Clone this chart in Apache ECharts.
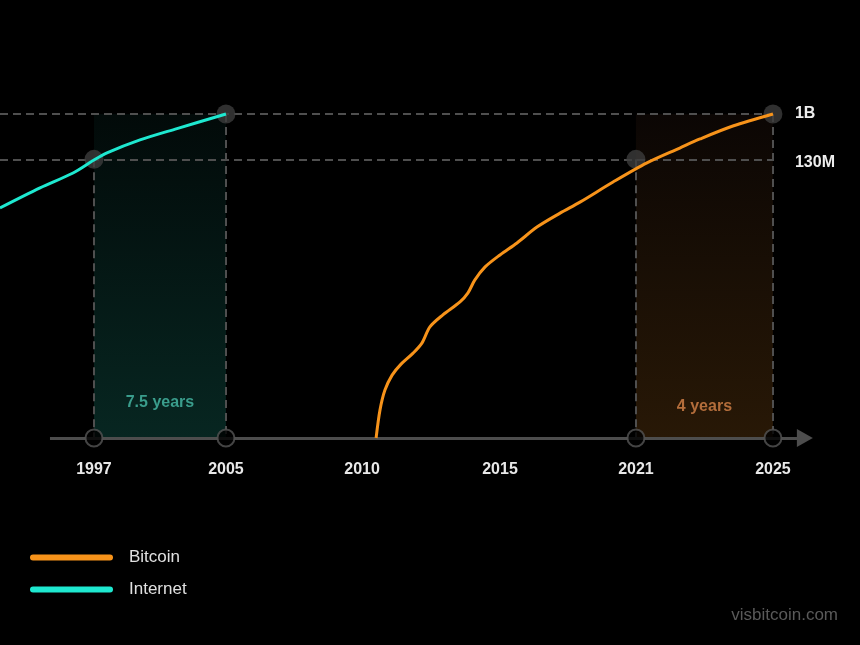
<!DOCTYPE html>
<html><head><meta charset="utf-8">
<script src="https://cdn.jsdelivr.net/npm/echarts@6/dist/echarts.min.js"></script>
<style>html,body{margin:0;padding:0;background:#000}#c{width:860px;height:645px}</style>
</head><body><div id="c"></div>
<script>
// ---- data ----
const tickYears = [1997, 2005, 2010, 2015, 2021, 2025];
const levelNames = ['130M', '1B'];
const levelValues = [0.860, 1.0];            // relative adoption height (1B = 1)
const internetYears = [1991.30, 1993.73, 1995.73, 1997, 1997.79, 1999.79, 2002.03, 2005];
const internetLevel = [0.710, 0.772, 0.818, 0.858, 0.880, 0.920, 0.955, 1.0];
const bitcoinYears = [2010.51, 2010.65, 2010.83, 2011.09, 2011.38, 2011.85, 2012.17, 2012.46, 2012.93, 2013.55, 2013.84, 2014.09, 2014.46, 2015.0, 2015.75, 2016.63, 2017.65, 2018.53, 2019.99, 2021.32, 2022.28, 2022.87, 2023.83, 2025];
const bitcoinLevel = [0, 0.086, 0.148, 0.194, 0.225, 0.262, 0.293, 0.343, 0.380, 0.420, 0.448, 0.488, 0.528, 0.565, 0.602, 0.651, 0.694, 0.728, 0.790, 0.849, 0.895, 0.923, 0.963, 1.0];
const internetSpan = [1997, 2005];
const bitcoinSpan = [2021, 2025];
const spanLabels = ['7.5 years', '4 years'];
const seriesNames = ['Bitcoin', 'Internet'];

// ---- layout: schematic (broken) time axis, tick positions on the axis ----
const tickPositions = [0, 0.972, 1.974, 2.990, 3.991, 5.0];
function slot(y) {
  const t = tickYears, p = tickPositions;
  let i;
  if (y <= t[0]) i = 0;
  else if (y >= t[t.length - 1]) i = t.length - 2;
  else { i = 0; while (!(y >= t[i] && y <= t[i + 1])) i++; }
  return p[i] + (y - t[i]) / (t[i + 1] - t[i]) * (p[i + 1] - p[i]);
}
const internetData = internetYears.map((y, i) => [slot(y), internetLevel[i]]);
const bitcoinData = bitcoinYears.map((y, i) => [slot(y), bitcoinLevel[i]]);

const FONT = "'Liberation Sans', Arial, Helvetica, sans-serif";
const CYAN = '#1ee8d0', ORANGE = '#f7931a', GUIDE = '#4f4f4f';
const X_MIN = -0.692, X_MAX = 5.236, AXIS_START = -0.324;

const topPoints = [[slot(internetSpan[0]), levelValues[0]], [slot(internetSpan[1]), levelValues[1]],
                   [slot(bitcoinSpan[0]), levelValues[0]], [slot(bitcoinSpan[1]), levelValues[1]]];
const axisPoints = topPoints.map(p => [p[0], 0]);

const dashStyle = { color: GUIDE, width: 2, type: [8, 5] };

const chart = echarts.init(document.getElementById('c'), null, { renderer: 'canvas' });
chart.setOption({
  backgroundColor: '#000',
  animation: false,
  textStyle: { fontFamily: FONT },
  grid: { left: 0, right: 55, top: 49.2, bottom: 207 },
  xAxis: {
    type: 'value', min: X_MIN, max: X_MAX,
    axisLine: { show: false }, axisTick: { show: false }, splitLine: { show: false },
    axisLabel: {
      customValues: tickYears.map((y) => slot(y)),
      formatter: (v) => {
        let best = 0;
        tickPositions.forEach((p, i) => { if (Math.abs(p - v) < Math.abs(tickPositions[best] - v)) best = i; });
        return String(tickYears[best]);
      },
      color: '#e8e8e8', fontSize: 16, fontWeight: 'bold', margin: 24, fontFamily: FONT
    }
  },
  yAxis: { type: 'value', min: 0, max: 1.2, show: false },
  legend: {
    data: seriesNames, orient: 'vertical', left: 25, top: 544,
    itemWidth: 83, itemHeight: 6, itemGap: 15,
    icon: 'path://M3,0L80,0A3,3,0,0,1,80,6L3,6A3,3,0,0,1,3,0Z',
    textStyle: { color: '#e0e0e0', fontSize: 17, fontFamily: FONT, padding: [0, 0, 0, 11] },
    selectedMode: false
  },
  graphic: [{
    type: 'text', right: 22, top: 607,
    style: { text: 'visbitcoin.com', fill: '#5a5a5a', font: '17px ' + FONT }
  }],
  series: [
    {
      name: 'Internet', type: 'line', data: internetData, z: 4,
      smooth: 0.3, showSymbol: false, lineStyle: { color: CYAN, width: 3 }, itemStyle: { color: CYAN },
      markArea: {
        silent: true, z: 1,
        itemStyle: { color: new echarts.graphic.LinearGradient(0, 0, 0, 1, [{ offset: 0, color: '#020a09' }, { offset: 1, color: '#072621' }]) },
        label: { show: true, position: 'insideBottom', distance: 27, color: '#3a9d8c', fontSize: 16, fontWeight: 'bold', fontFamily: FONT, formatter: spanLabels[0] },
        data: [[{ coord: [slot(internetSpan[0]), levelValues[1]] }, { coord: [slot(internetSpan[1]), 0] }]]
      }
    },
    {
      name: 'Bitcoin', type: 'line', data: bitcoinData, z: 4,
      smooth: 0.3, showSymbol: false, lineStyle: { color: ORANGE, width: 3 }, itemStyle: { color: ORANGE },
      markArea: {
        silent: true, z: 1,
        itemStyle: { color: new echarts.graphic.LinearGradient(0, 0, 0, 1, [{ offset: 0, color: '#0b0604' }, { offset: 1, color: '#281806' }]) },
        label: { show: true, position: 'insideBottom', distance: 23, color: '#b36d3b', fontSize: 16, fontWeight: 'bold', fontFamily: FONT, formatter: spanLabels[1] },
        data: [[{ coord: [slot(bitcoinSpan[0]), levelValues[1]] }, { coord: [slot(bitcoinSpan[1]), 0] }]]
      }
    },
    {
      name: 'guides', type: 'scatter', data: topPoints, z: 3, silent: true,
      symbolSize: 19, itemStyle: { color: '#3c3c3c' },
      markLine: {
        silent: true, z: 2, symbol: 'none',
        lineStyle: dashStyle,
        label: { show: false },
        data: [
          ...topPoints.map(p => [{ coord: p }, { coord: [p[0], 0] }]),
          ...levelValues.map((v, i) => [
            { coord: [X_MIN, v] },
            { coord: [slot(bitcoinSpan[1]), v], label: { show: true, position: 'end', distance: 22, offset: [0, i === 0 ? 3 : 0], formatter: levelNames[i], color: '#ededed', fontSize: 16, fontWeight: 'bold', fontFamily: FONT } }
          ])
        ]
      }
    },
    {
      name: 'axis', type: 'scatter', data: axisPoints, z: 3, silent: true,
      symbolSize: 17, itemStyle: { color: '#000', borderColor: '#555', borderWidth: 2 },
      markLine: {
        silent: true, z: 2, symbol: ['none', 'triangle'], symbolSize: [18, 16],
        lineStyle: { color: '#4d4d4d', width: 3, type: 'solid' },
        itemStyle: { color: '#4d4d4d' },
        label: { show: false },
        data: [[{ coord: [AXIS_START, 0] }, { coord: [X_MAX - 0.001, 0] }]]
      }
    }
  ]
});
</script>
</body></html>
